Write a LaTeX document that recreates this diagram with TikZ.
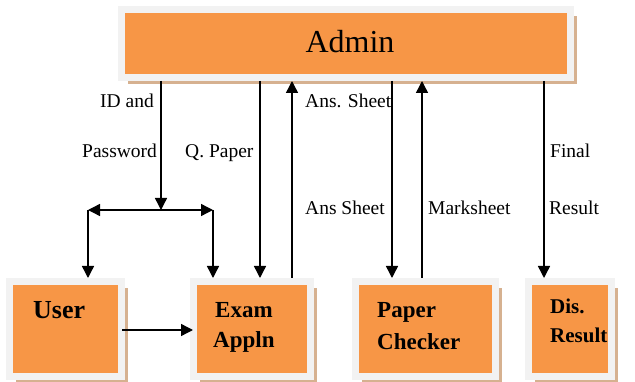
\documentclass[tikz,border=0pt]{standalone}
\usepackage{fontspec}
\setmainfont{Liberation Serif}
\usetikzlibrary{arrows.meta,shadows}

\definecolor{boxorange}{HTML}{F79646}
\definecolor{framegray}{HTML}{F2F2F2}
\definecolor{shadowtan}{HTML}{D6B190}

\tikzset{
  box/.style={draw=framegray, line width=7pt, fill=boxorange, inner sep=0pt,
    general shadow={fill=shadowtan, shadow xshift=6.5pt, shadow yshift=-6.5pt}},
  arr/.style={line width=1.4pt, -{Triangle[length=12pt,width=12pt]}},
  darr/.style={line width=1.4pt, {Triangle[length=12pt,width=12pt]}-{Triangle[length=12pt,width=12pt]}},
  flow/.style={font=\fontsize{19.5}{22}\selectfont, inner sep=0pt, anchor=base west},
  boxtext/.style={font=\bfseries\fontsize{23}{28}\selectfont, inner sep=0pt, anchor=base west},
}

\begin{document}
\begin{tikzpicture}[x=1pt, y=-1pt]
\useasboundingbox (0,0) rectangle (635,382);

% boxes
\node[box, minimum width=449pt, minimum height=68pt] (admin) at (346,43.5) {};
\node[font=\fontsize{32}{36}\selectfont, inner sep=0pt, anchor=base] (admin-t) at (350,53) {Admin};

\node[box, minimum width=112pt, minimum height=95pt] (user) at (65.5,329) {};
\node[box, minimum width=117pt, minimum height=95pt] (exam) at (252,329) {};
\node[box, minimum width=140pt, minimum height=95pt] (paper) at (425.5,329) {};
\node[box, minimum width=83pt, minimum height=95pt] (dis) at (570,329) {};

% box captions
\node[boxtext, font=\bfseries\fontsize{26}{30}\selectfont] (user-t) at (33,319) {User};
\node[boxtext] (exam-t1) at (215,318) {Exam};
\node[boxtext] (exam-t2) at (213,347) {Appln};
\node[boxtext] (paper-t1) at (377,318) {Paper};
\node[boxtext] (paper-t2) at (377,349) {Checker};
\node[boxtext, font=\bfseries\fontsize{21}{26}\selectfont] (dis-t1) at (550,313) {Dis.};
\node[boxtext, font=\bfseries\fontsize{21}{26}\selectfont] (dis-t2) at (550,342) {Result};

% junction points
\coordinate (split) at (161,210);
\coordinate (split-l) at (88,210);
\coordinate (split-r) at (213,210);
\coordinate (qp) at (260,0);
\coordinate (ans) at (292,0);
\coordinate (chk) at (392,0);
\coordinate (mk) at (422,0);
\coordinate (fin) at (544,0);
\coordinate (u-out) at (122,330);
\coordinate (e-in) at (193,330);

% connectors
\draw[arr] (admin.south -| split) -- (split);
\draw[darr] (split-l) -- (split-r);
\draw[arr] (split-l) -- (user.north -| split-l);
\draw[arr] (split-r) -- (exam.north -| split-r);
\draw[arr] (admin.south -| qp) -- (exam.north -| qp);
\draw[arr] (exam.north -| ans) -- (admin.south -| ans);
\draw[arr] (admin.south -| chk) -- (paper.north -| chk);
\draw[arr] (paper.north -| mk) -- (admin.south -| mk);
\draw[arr] (admin.south -| fin) -- (dis.north -| fin);
\draw[arr] (u-out) -- (e-in);

% connector labels
\node[flow] (l-id) at (100,108) {ID and};
\node[flow] (l-pw) at (82,158) {Password};
\node[flow] (l-qp) at (185,158) {Q. Paper};
\node[flow] (l-as1) at (305,108) {Ans. Sheet};
\node[flow] (l-as2) at (305,215) {Ans Sheet};
\node[flow] (l-mk) at (428,215) {Marksheet};
\node[flow] (l-fin) at (550,158) {Final};
\node[flow] (l-res) at (549,215) {Result};
\end{tikzpicture}
\end{document}
